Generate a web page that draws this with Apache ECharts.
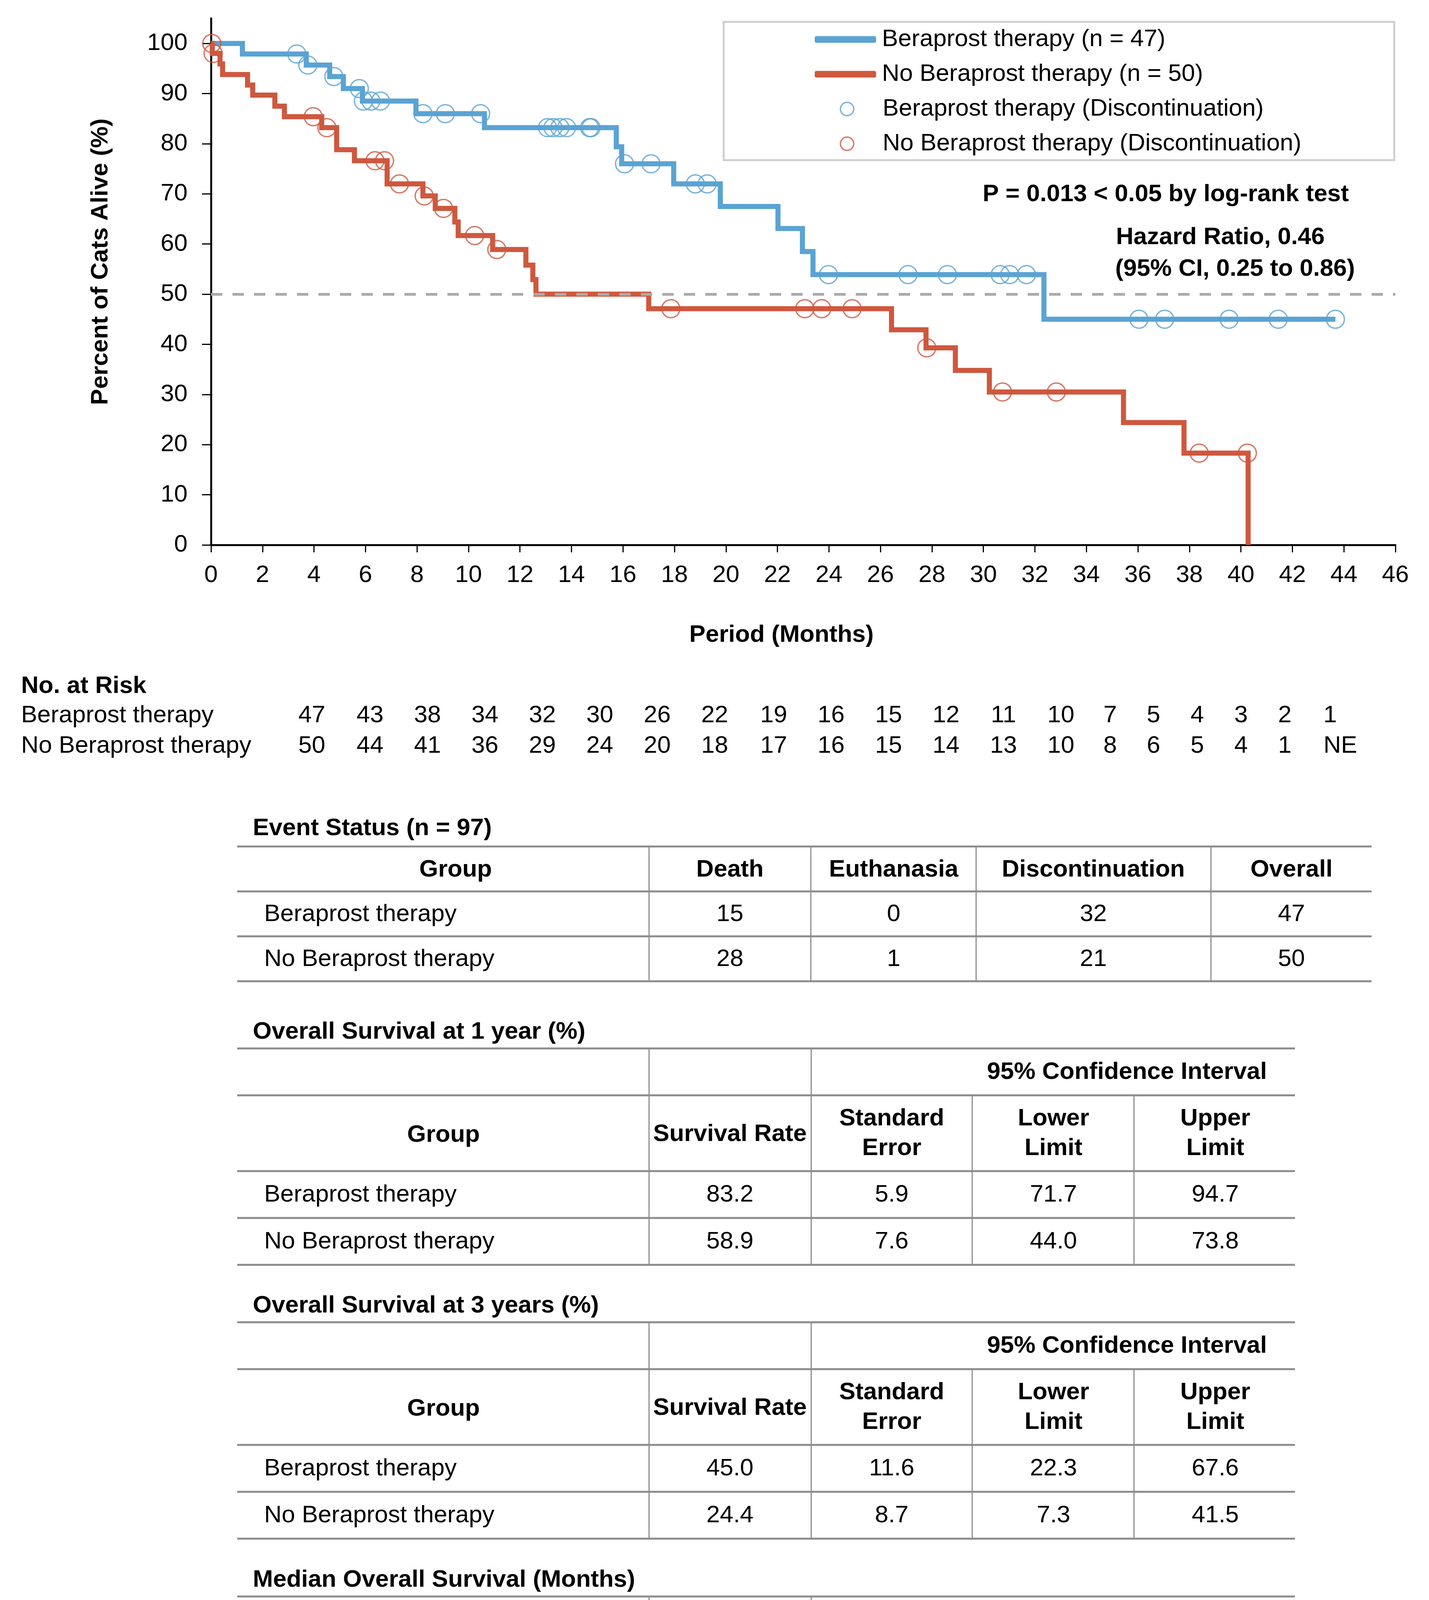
<!DOCTYPE html>
<html>
<head>
<meta charset="utf-8">
<script src="https://cdn.jsdelivr.net/npm/echarts@6/dist/echarts.min.js"></script>
<style>
html,body{margin:0;padding:0;background:#fff;}
#c{width:3657px;height:4691px;}
</style>
</head>
<body>
<div id="c"></div>
<script>
// ---------------- DATA ----------------
const beraTime = [0, 1.22, 3.7, 4.61, 5.14, 5.88, 7.96, 10.62, 15.74, 15.95, 17.97, 19.78, 22.02, 22.97, 23.38, 32.35, 43.67];
const beraSurv = [100, 97.9, 95.7, 93.4, 91.0, 88.5, 86.0, 83.2, 79.4, 76.0, 72.0, 67.5, 63.1, 58.5, 53.9, 45.0, 45.0];
const beraCensTime = [3.33, 3.76, 4.77, 5.76, 5.92, 6.21, 6.58, 8.23, 9.10, 10.47, 13.07, 13.28, 13.55, 13.81, 14.70, 14.76, 16.06, 17.09, 18.81, 19.27, 23.98, 27.07, 28.60, 30.65, 31.02, 31.67, 36.04, 37.04, 39.54, 41.45, 43.67];
const beraCensSurv = [97.9, 95.7, 93.4, 91.0, 88.5, 88.5, 88.5, 86.0, 86.0, 86.0, 83.2, 83.2, 83.2, 83.2, 83.2, 83.2, 76.0, 76.0, 72.0, 72.0, 53.9, 53.9, 53.9, 53.9, 53.9, 53.9, 45.0, 45.0, 45.0, 45.0, 45.0];

const noTime = [0, 0.05, 0.35, 0.45, 1.42, 1.62, 2.48, 2.85, 4.30, 4.88, 5.57, 6.84, 8.23, 8.71, 9.47, 9.60, 10.94, 12.23, 12.50, 12.62, 17.00, 26.43, 27.77, 28.91, 30.23, 35.44, 37.79, 40.28];
const noSurv = [100, 98.0, 95.9, 93.8, 91.7, 89.7, 87.5, 85.4, 83.2, 78.8, 76.6, 72.0, 69.6, 67.1, 64.4, 61.7, 58.9, 55.8, 52.9, 50.0, 47.1, 42.9, 39.3, 34.8, 30.5, 24.4, 18.3, 0];
const noCensTime = [0.03, 0.08, 3.97, 4.50, 6.37, 6.74, 7.32, 8.28, 9.03, 10.24, 11.10, 17.86, 23.06, 23.72, 24.90, 27.80, 30.74, 32.83, 38.38, 40.25];
const noCensSurv = [100, 98.0, 85.4, 83.2, 76.6, 76.6, 72.0, 69.6, 67.1, 61.7, 58.9, 47.1, 47.1, 47.1, 47.1, 39.3, 30.5, 30.5, 18.3, 18.3];

const medianRef = 50;
const yTicks = [0, 10, 20, 30, 40, 50, 60, 70, 80, 90, 100];

const seriesNames = ['Beraprost therapy (n = 47)', 'No Beraprost therapy (n = 50)',
  'Beraprost therapy (Discontinuation)', 'No Beraprost therapy (Discontinuation)'];

const pText = 'P = 0.013 < 0.05 by log-rank test';
const hrText1 = 'Hazard Ratio, 0.46';
const hrText2 = '(95% CI, 0.25 to 0.86)';

const riskGroups = ['Beraprost therapy', 'No Beraprost therapy'];
const riskBera = ['47','43','38','34','32','30','26','22','19','16','15','12','11','10','7','5','4','3','2','1'];
const riskNo = ['50','44','41','36','29','24','20','18','17','16','15','14','13','10','8','6','5','4','1','NE'];

const evtTitle = 'Event Status (n = 97)';
const evtHeader = ['Group', 'Death', 'Euthanasia', 'Discontinuation', 'Overall'];
const evtBera = ['Beraprost therapy', '15', '0', '32', '47'];
const evtNo = ['No Beraprost therapy', '28', '1', '21', '50'];

const os1Title = 'Overall Survival at 1 year (%)';
const os1Bera = ['Beraprost therapy', '83.2', '5.9', '71.7', '94.7'];
const os1No = ['No Beraprost therapy', '58.9', '7.6', '44.0', '73.8'];
const os3Title = 'Overall Survival at 3 years (%)';
const os3Bera = ['Beraprost therapy', '45.0', '11.6', '22.3', '67.6'];
const os3No = ['No Beraprost therapy', '24.4', '8.7', '7.3', '41.5'];
const medTitle = 'Median Overall Survival (Months)';
const medBera = ['Beraprost therapy', '32.4', '8.1', '16.6', '48.2'];
const medNo = ['No Beraprost therapy', '17.0', '9.3', '-1.1', '35.2'];
const ciHeader = '95% Confidence Interval';

// ---------------- STYLE / LAYOUT ----------------
const FF = '"Liberation Sans", Arial, Helvetica, sans-serif';
const FS = 62;
const BLUE = '#5AA3D3';
const RED = '#CE583E';
const GRID_LINE = '#8c8c8c';

function T(text, x, y, opt) {
  opt = opt || {};
  const align = opt.align || 'left';
  return {
    type: 'text', x: x, y: y, rotation: opt.rotation || 0, silent: true, z: 10,
    style: {
      text: text,
      font: (opt.bold ? 'bold ' : '') + (opt.size || FS) + 'px ' + FF,
      fill: '#000',
      textAlign: align, align: align,
      textVerticalAlign: 'middle', verticalAlign: 'middle'
    }
  };
}
function L(x1, y1, x2, y2, w, c) {
  return { type: 'line', silent: true, z: 5,
    shape: { x1: x1, y1: y1, x2: x2, y2: y2 },
    style: { stroke: c || GRID_LINE, lineWidth: w || 4 } };
}

const g = [];
// legend box
g.push({ type: 'rect', silent: true, z: 0, shape: { x: 1852, y: 56, width: 1716, height: 354 },
  style: { fill: '#fff', stroke: '#cfcfcf', lineWidth: 5 } });
// annotations
g.push(T(pText, 3452, 498, { bold: true, align: 'right' }));
g.push(T(hrText1, 2856, 608, { bold: true }));
g.push(T(hrText2, 2854, 689, { bold: true }));
// axis titles
g.push(T('Percent of Cats Alive (%)', 258, 670, { bold: true, align: 'center', rotation: Math.PI / 2 }));
g.push(T('Period (Months)', 2000, 1626, { bold: true, align: 'center' }));

// No. at risk
const riskX = [798, 947, 1094, 1241, 1388, 1535, 1682, 1829, 1980, 2127, 2274, 2421, 2568, 2715, 2841, 2952, 3064, 3176, 3288, 3404];
g.push(T('No. at Risk', 54, 1757, { bold: true }));
g.push(T(riskGroups[0], 54, 1832));
g.push(T(riskGroups[1], 54, 1910));
riskBera.forEach((v, i) => g.push(T(v, riskX[i], 1832, { align: 'center' })));
riskNo.forEach((v, i) => g.push(T(v, riskX[i] + (v === 'NE' ? 26 : 0), 1910, { align: 'center' })));

// Table 1 : event status
(function () {
  const L0 = 607, R0 = 3510;
  const hy = [2167, 2282, 2397, 2512];
  const vx = [1661, 2075, 2498, 3099];
  const cx = [1166, 1868, 2287, 2798, 3305];
  g.push(T(evtTitle, 647, 2121, { bold: true }));
  hy.forEach(y => g.push(L(L0, y, R0, y, 5)));
  vx.forEach(x => g.push(L(x, hy[0], x, hy[3], 3)));
  evtHeader.forEach((h, i) => g.push(T(h, cx[i], 2227, { bold: true, align: 'center' })));
  [evtBera, evtNo].forEach((row, r) => {
    const y = 2341 + r * 115;
    row.forEach((v, i) => {
      if (i === 0) g.push(T(v, 676, y));
      else g.push(T(v, cx[i], y, { align: 'center' }));
    });
  });
})();

// Tables 2-4
function survTable(off, title, firstHeader, r1, r2) {
  const L0 = 607, R0 = 3314;
  const hy = [2684, 2804, 2998, 3118, 3238].map(y => y + off);
  g.push(T(title, 647, 2642 + off, { bold: true }));
  hy.forEach(y => g.push(L(L0, y, R0, y, 5)));
  g.push(L(1661, hy[0], 1661, hy[4], 3));
  g.push(L(2076, hy[0], 2076, hy[4], 3));
  g.push(L(2488, hy[1], 2488, hy[4], 3));
  g.push(L(2902, hy[1], 2902, hy[4], 3));
  g.push(T(ciHeader, 2884, 2745 + off, { bold: true, align: 'center' }));
  const cx = [1135, 1868, 2282, 2696, 3110];
  g.push(T('Group', cx[0], 2906 + off, { bold: true, align: 'center' }));
  g.push(T(firstHeader, cx[1], 2904 + off, { bold: true, align: 'center' }));
  g.push(T('Standard', cx[2], 2864 + off, { bold: true, align: 'center' }));
  g.push(T('Error', cx[2], 2940 + off, { bold: true, align: 'center' }));
  g.push(T('Lower', cx[3], 2864 + off, { bold: true, align: 'center' }));
  g.push(T('Limit', cx[3], 2940 + off, { bold: true, align: 'center' }));
  g.push(T('Upper', cx[4], 2864 + off, { bold: true, align: 'center' }));
  g.push(T('Limit', cx[4], 2940 + off, { bold: true, align: 'center' }));
  [r1, r2].forEach((row, r) => {
    const y = 3059 + off + r * 120;
    row.forEach((v, i) => {
      if (i === 0) g.push(T(v, 676, y));
      else g.push(T(v, cx[i], y, { align: 'center' }));
    });
  });
}
survTable(0, os1Title, 'Survival Rate', os1Bera, os1No);
survTable(701, os3Title, 'Survival Rate', os3Bera, os3No);
survTable(1403, medTitle, 'Median', medBera, medNo);

// ---------------- CHART ----------------
const chart = echarts.init(document.getElementById('c'), null, { renderer: 'canvas' });
const axisLabelStyle = { color: '#000', fontSize: FS, fontFamily: FF };
chart.setOption({
  animation: false,
  backgroundColor: '#fff',
  grid: { left: 540, right: 86, top: 47, bottom: 3296, containLabel: false },
  xAxis: {
    type: 'value', min: 0, max: 46, interval: 2,
    axisLine: { show: true, lineStyle: { color: '#000', width: 5 } },
    axisTick: { show: true, length: 19, lineStyle: { color: '#000', width: 3 } },
    axisLabel: Object.assign({ margin: 47 }, axisLabelStyle),
    splitLine: { show: false }
  },
  yAxis: {
    type: 'value', min: 0, max: 105,
    axisLine: { show: true, lineStyle: { color: '#000', width: 5 } },
    axisTick: { show: true, length: 23, customValues: yTicks, lineStyle: { color: '#000', width: 3 } },
    axisLabel: Object.assign({ margin: 60, customValues: yTicks }, axisLabelStyle),
    splitLine: { show: false }
  },
  legend: [
    {
      orient: 'vertical', left: 2085, top: 70, padding: 0, itemGap: 27,
      itemWidth: 157, itemHeight: 17, icon: 'roundRect', selectedMode: false,
      data: [seriesNames[0], seriesNames[1]],
      itemStyle: { borderWidth: 0 },
      textStyle: { color: '#000', fontSize: FS, fontFamily: FF, padding: [0, 0, 0, 10] }
    },
    {
      orient: 'vertical', left: 2149, top: 248, padding: 0, itemGap: 27,
      itemWidth: 34, itemHeight: 34, icon: 'circle', selectedMode: false,
      data: [seriesNames[2], seriesNames[3]],
      itemStyle: { color: 'rgba(0,0,0,0)', borderWidth: 3.5 },
      textStyle: { color: '#000', fontSize: FS, fontFamily: FF, padding: [0, 0, 0, 69] }
    }
  ],
  series: [
    {
      name: seriesNames[0], type: 'line', step: 'end', symbol: 'none', z: 2,
      data: beraTime.map((t, i) => [t, beraSurv[i]]),
      itemStyle: { color: BLUE },
      lineStyle: { color: BLUE, width: 13, join: 'miter' }
    },
    {
      name: seriesNames[1], type: 'line', step: 'end', symbol: 'none', z: 3,
      data: noTime.map((t, i) => [t, noSurv[i]]),
      itemStyle: { color: RED },
      lineStyle: { color: RED, width: 13, join: 'miter' }
    },
    {
      name: seriesNames[2], type: 'scatter', symbol: 'circle', symbolSize: 46, z: 4,
      data: beraCensTime.map((t, i) => [t, beraCensSurv[i]]),
      itemStyle: { color: 'rgba(0,0,0,0)', borderColor: BLUE, borderWidth: 3.5 }
    },
    {
      name: seriesNames[3], type: 'scatter', symbol: 'circle', symbolSize: 46, z: 4,
      data: noCensTime.map((t, i) => [t, noCensSurv[i]]),
      itemStyle: { color: 'rgba(0,0,0,0)', borderColor: RED, borderWidth: 3.5 }
    },
    {
      name: 'median', type: 'line', data: [], z: 6, silent: true,
      markLine: {
        silent: true, symbol: 'none', label: { show: false },
        lineStyle: { color: '#aaaaaa', width: 7, type: [29, 26] },
        data: [{ yAxis: medianRef }]
      }
    }
  ],
  graphic: g
});
</script>
</body>
</html>
